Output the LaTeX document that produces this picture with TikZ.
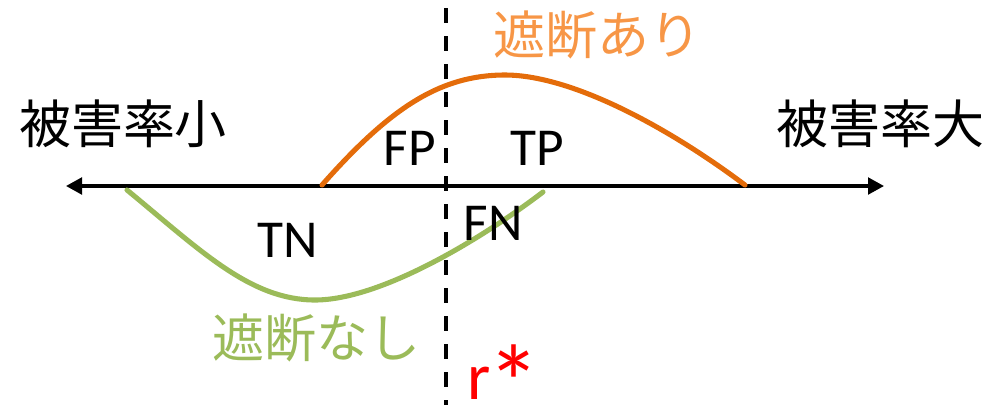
\documentclass[tikz,border=0pt]{standalone}
\usepackage{fontspec}
\usepackage{graphicx}
\setmainfont{Carlito}
\newfontfamily\jp{Noto Sans CJK JP}
\usetikzlibrary{arrows.meta}
\definecolor{curveorange}{HTML}{E46C0A}
\definecolor{textorange}{HTML}{F79646}
\definecolor{curvegreen}{HTML}{9BBB59}
\definecolor{rstar}{HTML}{FF0000}
\begin{document}
\begin{tikzpicture}[x=0.75pt,y=-0.75pt,
  axis/.style={line width=2.4pt,-{Triangle[length=12pt,width=12.5pt]}},
  cutline/.style={line width=2.6pt,dash pattern=on 11pt off 10pt},
  curve/.style={line width=3.8pt,line cap=round},
  jptext/.style={font=\jp\fontsize{39}{41}\selectfont},
  latext/.style={inner sep=0pt,anchor=base,font=\fontsize{40}{42}\selectfont}]
\useasboundingbox (0,0) rectangle (1007,405);
% axis
\coordinate (L) at (66,186);
\coordinate (R) at (884,186);
\coordinate (M) at (470,186);
\draw[axis] (M) -- (L);
\draw[axis] (M) -- (R);
% dashed cut line
\coordinate (T) at (446,8);
\coordinate (B) at (446,405);
\draw[cutline] (T) -- (B);
% curves
\coordinate (o1) at (322,185);
\coordinate (o2) at (505,75);
\coordinate (o3) at (745,185);
\draw[curve,curveorange] (o1) .. controls (390,108) and (440,75) .. (o2)
  .. controls (570,75) and (665,125) .. (o3);
\coordinate (g1) at (127,190);
\coordinate (g2) at (315,300);
\coordinate (g3) at (543,192);
\draw[curve,curvegreen] (g1) .. controls (200,250) and (250,300) .. (g2)
  .. controls (380,300) and (480,240) .. (g3);
% labels
\node[jptext] (small) at (123,124) {被害率小};
\node[jptext] (large) at (880,124) {被害率大};
\node[jptext,text=textorange] (with) at (597,35) {遮断あり};
\node[jptext,text=curvegreen] (without) at (316,338) {遮断なし};
\node[latext] (FP) at (410,165) {FP};
\node[latext] (TP) at (537,165) {TP};
\node[latext] (TN) at (288,257) {TN};
\node[latext] (FN) at (493,240) {FN};
\node[latext,anchor=base west,text=rstar,font=\fontsize{50}{52}\selectfont] (r) at (467,399) {r\kern-2pt\raisebox{-16pt}[\height][0pt]{\scalebox{1.6}{*}}};
\end{tikzpicture}
\end{document}
